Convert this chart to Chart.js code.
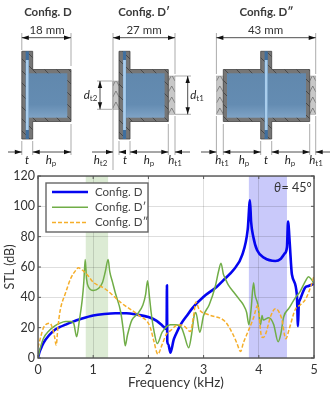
<!DOCTYPE html>
<html><head><meta charset="utf-8">
<style>html,body{margin:0;padding:0;background:#fff}#w{width:335px;height:394px;position:relative}</style>
<script src="https://cdn.jsdelivr.net/npm/chart.js@4/dist/chart.umd.min.js"></script>
</head><body><div id="w"><canvas id="c" width="335" height="394"></canvas></div>
<script>
const seriesNames = ["Config. D", "Config. D′", "Config. D″"];
const freqD = [0,.02,.05,.1,.2,.3,.4,.5,.6,.8,1,1.2,1.4,1.6,1.8,2,2.15,2.25,2.33,2.336,2.342,2.36,2.4,2.457,2.49,2.6,2.7,2.79,3,3.24,3.36,3.54,3.7,3.8,3.84,3.86,3.9,3.97,4.1,4.3,4.4,4.47,4.51,4.53,4.56,4.6,4.69,4.71,4.725,4.74,4.84,4.9,5];
const stlD = [0,3,6,10,15,18.5,20.5,22,23.5,26,28,29,29.5,29.5,28.5,27,24.5,21.5,19,48,11,9,3.5,12,15,23,28,32.6,40.4,47,51.4,58,68,85,104,90,80,71,66,64,65.5,69,73,90,76,55,41.6,21,36,38,46.5,47.5,49];
const freqD1 = [0,.03,.1,.2,.3,.4,.5,.6,.65,.7,.75,.8,.83,.855,.88,.92,1,1.1,1.17,1.22,1.27,1.3,1.35,1.4,1.5,1.55,1.58,1.62,1.7,1.8,1.9,1.95,1.985,2.02,2.05,2.1,2.16,2.25,2.4,2.5,2.6,2.65,2.73,2.78,2.83,2.86,2.93,3,3.1,3.21,3.27,3.315,3.36,3.39,3.45,3.54,3.65,3.72,3.78,3.82,3.86,3.905,3.93,3.985,4.03,4.06,4.08,4.18,4.27,4.35,4.4,4.45,4.55,4.66,4.75,4.85,4.9,4.95,5];
const stlD1 = [0,5,13,18,21,23,24,24,22.5,14,25,38,50,65,52,46.5,44.5,46,50,57,65,57,50,43,30,17,8,15,25,29,35,42,51,40,30,18,9.5,17,22,22,20,15,6.8,15,28,30,17,28,35,47,57,62.5,55,52.6,48,43.7,38.5,35,30,22,32,49.6,42,35,22,28,25,26.5,22,10.7,16,27,33,39.6,44,51,53.5,52,49];
const freqD2 = [0,.05,.1,.21,.25,.3,.33,.36,.4,.5,.6,.7,.73,.8,.9,1,1.22,1.52,1.82,2.03,2.1,2.17,2.25,2.33,2.4,2.54,2.65,2.76,2.82,2.86,2.92,3.09,3.39,3.54,3.6,3.67,3.72,3.8,3.9,3.985,4.02,4.05,4.08,4.12,4.22,4.3,4.41,4.49,4.55,4.66,4.75,4.85,4.95,5];
const stlD2 = [7,14,20,23,21,14,8.5,20,31,43,53,58.5,59.5,58,54.5,50,45.5,36,28.3,20.6,11,2.5,9,16,18,22,21,17.5,28,37,32,28.5,24,15,10,4.3,10,17,26,35,22,14,13.5,15.5,28,32.5,26.5,12.7,19,32,35,39,48,54];
const xTicks = [0,1,2,3,4,5];
const yTicks = [0,20,40,60,80,100,120];
const bandGreen = [0.865,1.27];
const bandBlue = [3.82,4.51];
const zip=(a,b)=>a.map((x,i)=>({x,y:b[i]}));
const FONT='Lato, "Open Sans", sans-serif';

function arrowH(c,x,y,dir){c.beginPath();c.moveTo(x,y);c.lineTo(x-dir*7,y-2.2);c.lineTo(x-dir*7,y+2.2);c.closePath();c.fill();}
function arrowV(c,x,y,dir){c.beginPath();c.moveTo(x,y);c.lineTo(x-2.2,y-dir*7);c.lineTo(x+2.2,y-dir*7);c.closePath();c.fill();}
function seg(c,x1,y1,x2,y2){c.beginPath();c.moveTo(x1,y1);c.lineTo(x2,y2);c.stroke();}
function patch(c,x,y,w,h){
  c.fillStyle='#c8c8c8';c.fillRect(x,y,w,h);
  c.save();c.beginPath();c.rect(x,y,w,h);c.clip();c.strokeStyle='#666';c.lineWidth=0.7;
  for(let k=y-12;k<y+h;k+=11){seg(c,x,k+6,x+w/2,k);seg(c,x+w/2,k,x+w,k+6);}
  c.restore();
  c.strokeStyle='#999';c.lineWidth=0.5;c.strokeRect(x,y,w,h);
}
function wallPath(c,fx0,fx1,bx0,bx1){
  const yt=51.3,yb=139,bt=69.5,bb=121.5;
  c.beginPath();c.moveTo(fx0,yt);c.lineTo(fx1,yt);c.lineTo(fx1,bt);c.lineTo(bx1,bt);c.lineTo(bx1,bb);c.lineTo(fx1,bb);c.lineTo(fx1,yb);c.lineTo(fx0,yb);
  if(bx0<fx0){c.lineTo(fx0,bb);c.lineTo(bx0,bb);c.lineTo(bx0,bt);c.lineTo(fx0,bt);}
  c.closePath();
}
function cell(c,fx0,fx1,bx0,bx1){
  c.save();wallPath(c,fx0,fx1,bx0,bx1);c.fillStyle='#767676';c.fill();c.clip();
  c.strokeStyle='#2a2a2a';c.lineWidth=0.6;
  for(let k=-160;k<420;k+=12){seg(c,k,45,k+100,145);}
  c.restore();
  wallPath(c,fx0,fx1,bx0,bx1);c.strokeStyle='#444';c.lineWidth=0.8;c.stroke();
  const fl=bx0<fx0?bx0+3.7:fx0+4.2, fr=bx1-3.7;
  const g=c.createLinearGradient(0,73,0,118);g.addColorStop(0,'#6188ad');g.addColorStop(.7,'#648cb2');g.addColorStop(1,'#7fa3c6');
  c.fillStyle=g;c.fillRect(fl,73.3,fr-fl,44.4);
  const pm=(fx0+fx1)/2;
  c.fillStyle='#3f6f9f';c.fillRect(pm-1.6,51.3,3.2,87.7);
  c.fillStyle='#a9cdec';c.fillRect(pm-1.4,60,2.8,70);
}
function txt(c,s,x,y,font,col,al){c.font=font;c.fillStyle=col||'#333';c.textAlign=al||'center';c.textBaseline='middle';c.fillText(s,x,y);}
function sym(c,s,sub,x,y){
  c.font='italic 11.5px '+FONT;const w=c.measureText(s).width;
  let w2=0;if(sub){c.font='8px '+FONT;w2=c.measureText(sub).width;}
  const sx=x-(w+w2)/2;
  txt(c,s,sx,y,'italic 11.5px '+FONT,'#222','left');
  if(sub)txt(c,sub,sx+w,y+3,'8px '+FONT,'#333','left');
}
const diagram={id:'diagram',afterDraw(ch){
  const c=ch.ctx;c.save();
  const tf='bold 11.5px '+FONT;
  txt(c,'Config. D',48,12,tf,'#3a3a3a');txt(c,'Config. D′',144,12,tf,'#3a3a3a');txt(c,'Config. D″',266.5,12,tf,'#3a3a3a');
  cell(c,21.8,32.7,21.8,71);
  patch(c,112.8,81,6.3,28.3);patch(c,168.4,76,6.6,38.3);
  cell(c,119,130,119,168.3);
  patch(c,216.4,76,6.9,38.3);patch(c,309.7,76,6.1,38.3);
  cell(c,260.7,271.7,223.3,309.7);
  c.strokeStyle='#888';c.lineWidth=0.7;
  [[21.8,33,50],[71,33,66],[113,33,170],[175,33,74],[216.4,33,74],[315.7,33,74],
   [21.8,141,155],[32.7,141,155],[71,124,155],[119,141,155],[130,141,155],[168.3,124,155],[175,116,155],
   [216.4,116,155],[223.3,124,155],[260.7,141,155],[271.7,141,155],[309.7,124,155],[315.7,116,155]].forEach(e=>seg(c,e[0],e[1],e[0],e[2]));
  [[97,112,81],[97,112,109.3],[175,191,76],[175,191,114.3]].forEach(e=>seg(c,e[0],e[2],e[1],e[2]));
  c.strokeStyle='#222';c.fillStyle='#111';c.lineWidth=0.8;
  [[21.8,71],[113,175],[216.4,315.7]].forEach(d=>{seg(c,d[0],37.7,d[1],37.7);arrowH(c,d[0],37.7,-1);arrowH(c,d[1],37.7,1);});
  const hl=(a,b)=>{seg(c,a,152,b,152);};
  hl(8,21.8);arrowH(c,21.8,152,1);hl(32.7,71);arrowH(c,32.7,152,-1);arrowH(c,71,152,1);
  hl(92,113);arrowH(c,113,152,1);hl(119,126);arrowH(c,119,152,-1);hl(130,168.3);arrowH(c,130,152,-1);arrowH(c,168.3,152,1);
  hl(175,190);arrowH(c,175,152,-1);
  hl(201,216.4);arrowH(c,216.4,152,1);hl(223.3,260.7);arrowH(c,223.3,152,-1);arrowH(c,260.7,152,1);
  hl(271.7,309.7);arrowH(c,271.7,152,-1);arrowH(c,309.7,152,1);hl(315.7,330);arrowH(c,315.7,152,-1);
  seg(c,100,81,100,109.3);arrowV(c,100,81,-1);arrowV(c,100,109.3,1);
  seg(c,187.7,76,187.7,114.3);arrowV(c,187.7,76,-1);arrowV(c,187.7,114.3,1);
  const mf='11.5px '+FONT;
  txt(c,'18 mm',47,30,mf,'#333');txt(c,'27 mm',144,30,mf,'#333');txt(c,'43 mm',265.5,30,mf,'#333');
  sym(c,'t','',27,160);sym(c,'h','p',51,160);
  sym(c,'h','t2',100.5,160);sym(c,'t','',125,160);sym(c,'h','p',149,160);sym(c,'h','t1',175,160);
  sym(c,'h','t1',222,160);sym(c,'h','p',244,160);sym(c,'t','',266,160);sym(c,'h','p',290,160);sym(c,'h','t1',316,160);
  sym(c,'d','t2',90.5,95);sym(c,'d','t1',197,95);
  c.restore();
}};
const bands={id:'bands',beforeDraw(ch){
  const c=ch.ctx,x=ch.scales.x,a=ch.chartArea;c.save();
  c.fillStyle='#dcebd4';c.fillRect(x.getPixelForValue(bandGreen[0]),a.top,x.getPixelForValue(bandGreen[1])-x.getPixelForValue(bandGreen[0]),a.height);
  c.fillStyle='#c9c9fa';c.fillRect(x.getPixelForValue(bandBlue[0]),a.top,x.getPixelForValue(bandBlue[1])-x.getPixelForValue(bandBlue[0]),a.height);
  c.restore();
}};
const frame={id:'frame',afterDatasetsDraw(ch){
  const c=ch.ctx,a=ch.chartArea,xs=ch.scales.x,ys=ch.scales.y;c.save();
  c.strokeStyle='#555';c.lineWidth=1.4;c.strokeRect(a.left,a.top,a.width,a.height);
  c.lineWidth=1;
  xTicks.forEach(v=>{const p=xs.getPixelForValue(v);seg(c,p,a.bottom,p,a.bottom-3);seg(c,p,a.top,p,a.top+3);});
  yTicks.forEach(v=>{const p=ys.getPixelForValue(v);seg(c,a.left,p,a.left+3,p);seg(c,a.right,p,a.right-3,p);});
  c.font='italic 12.5px '+FONT;c.fillStyle='#333';c.textAlign='left';c.textBaseline='middle';
  c.fillText('θ',274,187.5);
  c.font='12.5px '+FONT;c.fillText('= 45°',281.5,187.5);
  c.fillStyle='#fff';c.fillRect(46,183,102,49);c.strokeStyle='#666';c.lineWidth=1.4;c.strokeRect(46,183,102,49);
  ch.data.datasets.forEach((d,i)=>{
    const y=192+i*15.2;
    c.strokeStyle=d.borderColor;c.lineWidth=d.borderWidth;c.setLineDash(d.borderDash||[]);
    seg(c,52,y,88,y);c.setLineDash([]);
    c.fillStyle='#444';c.font='11.5px '+FONT;c.textAlign='left';c.fillText(d.label,95,y);
  });
  c.restore();
}};
new Chart(document.getElementById('c'),{
  type:'line',
  data:{datasets:[
    {label:seriesNames[0],data:zip(freqD,stlD),borderColor:'#0505f0',borderWidth:2.6,order:3},
    {label:seriesNames[1],data:zip(freqD1,stlD1),borderColor:'#70ad47',borderWidth:1.5,order:2},
    {label:seriesNames[2],data:zip(freqD2,stlD2),borderColor:'#f5ae2a',borderWidth:1.5,borderDash:[4,2],order:1}
  ]},
  options:{
    responsive:false,animation:false,events:[],devicePixelRatio:1,
    layout:{padding:{left:0,top:176,right:21,bottom:0}},
    elements:{point:{radius:0},line:{cubicInterpolationMode:'monotone',borderJoinStyle:'round'}},
    plugins:{legend:{display:false},tooltip:{enabled:false},title:{display:false}},
    scales:{
      x:{type:'linear',min:0,max:5,
        afterFit(s){s.height=36;},
        afterBuildTicks(s){s.ticks=xTicks.map(v=>({value:v}));},
        grid:{color:'rgba(0,0,0,.13)',lineWidth:1,drawTicks:false},border:{display:false},
        ticks:{padding:4,maxRotation:0,color:'#333',font:{family:FONT,size:12.5}},
        title:{display:true,text:'Frequency (kHz)',color:'#333',padding:{top:0,bottom:3},font:{family:FONT,size:13.5}}},
      y:{min:0,max:120,
        afterFit(s){s.width=38;},
        afterBuildTicks(s){s.ticks=yTicks.map(v=>({value:v}));},
        grid:{color:'rgba(0,0,0,.13)',lineWidth:1,drawTicks:false},border:{display:false},
        ticks:{padding:3,color:'#333',font:{family:FONT,size:12.5}},
        title:{display:true,text:'STL (dB)',color:'#333',padding:{top:2,bottom:2},font:{family:FONT,size:12.5}}}
    }
  },
  plugins:[bands,frame,diagram]
});
</script></body></html>
